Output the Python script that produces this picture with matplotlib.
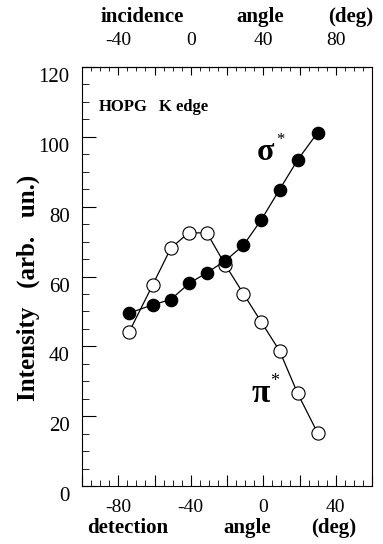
import numpy as np
import matplotlib.pyplot as plt
from matplotlib.ticker import MultipleLocator, FixedLocator, FuncFormatter
from matplotlib.transforms import ScaledTranslation

# detection angle (deg) and intensities (arb. un.)
det_angle = [-74, -61, -51, -41, -31, -21, -11, -1, 9, 19, 30]
sigma = [49.5, 51.9, 53.4, 58.0, 61.1, 64.5, 68.9, 76.3, 84.9, 93.4, 101.2]
pi = [44.1, 57.6, 68.1, 72.6, 72.4, 63.4, 55.1, 46.9, 38.7, 26.5, 15.2]

# incidence angle = detection angle + 40
offset = 40
top_ticks = [-40, -20, 0, 20, 40, 60, 80]

plt.rcParams['font.family'] = ['Liberation Serif', 'DejaVu Serif']
plt.rcParams['axes.unicode_minus'] = False

W, H = 383, 544
fig = plt.figure(figsize=(W / 100, H / 100), dpi=100)
ax = fig.add_axes([82 / W, (H - 486) / H, 290 / W, 419 / H])

ax.plot(det_angle, pi, '-', color='black', lw=0.9, marker='o', ms=9.5,
        mfc='white', mec='black', mew=0.8, zorder=2)
ax.plot(det_angle, sigma, '-', color='black', lw=0.9, marker='o', ms=8.8,
        mfc='black', mec='black', zorder=3)

every40 = FuncFormatter(lambda v, p: '%d' % v if round(v) % 40 == 0 else '')

ax.set_xlim(-100, 60)
ax.set_ylim(0, 120)
ax.xaxis.set_major_locator(MultipleLocator(20))
ax.xaxis.set_major_formatter(every40)
ax.xaxis.set_minor_locator(MultipleLocator(5))
ax.yaxis.set_major_locator(MultipleLocator(20))
ax.yaxis.set_minor_locator(MultipleLocator(5))
ax.tick_params(which='both', direction='in', labelsize=15)
ax.tick_params(axis='x', which='major', length=8, width=0.8, pad=9, labelsize=14)
ax.tick_params(axis='x', which='minor', length=4, width=0.6)
ax.tick_params(axis='y', which='major', length=10, width=0.8, pad=9)
ax.tick_params(axis='y', which='minor', length=5, width=0.6)
for s in ax.spines.values():
    s.set_linewidth(0.8)
# y labels in the original sit a little below their ticks
for lab in ax.get_yticklabels():
    lab.set_transform(lab.get_transform() + ScaledTranslation(0, -0.08, fig.dpi_scale_trans))

top = ax.secondary_xaxis('top', functions=(lambda d: d + offset, lambda i: i - offset))
top.xaxis.set_major_locator(FixedLocator(top_ticks))
top.xaxis.set_major_formatter(every40)
top.xaxis.set_minor_locator(MultipleLocator(5))
top.tick_params(which='both', direction='in', labelsize=14)
top.tick_params(which='major', length=6, width=0.8, pad=13)
top.tick_params(which='minor', length=3, width=0.6)

# axis titles, word by word with the wide spacing of the original
lab_kw = dict(fontsize=15, fontweight='bold', va='center', ha='center')
for word, xc in [('incidence', 142), ('angle', 260), ('(deg)', 351)]:
    fig.text(xc / W, 1 - 17 / H, word, **lab_kw)
for word, xc in [('detection', 128), ('angle', 247), ('(deg)', 334)]:
    fig.text(xc / W, 1 - 528 / H, word, **lab_kw)
fig.text(28 / W, 1 - 288 / H, 'Intensity   (arb.   un.)', fontsize=18,
         fontweight='bold', rotation=90, va='center', ha='center')

ax.text(-90.5, 108.5, 'HOPG', fontsize=12, fontweight='bold', va='center')
ax.text(-57.5, 108.5, 'K edge', fontsize=12, fontweight='bold', va='center')
ax.text(-3.5, 93.5, 'σ', fontsize=23, fontweight='bold')
ax.text(7, 98, '*', fontsize=12)
ax.text(-6.5, 24, 'π', fontsize=24, fontweight='bold')
ax.text(4, 28.5, '*', fontsize=13)

fig.savefig('out.png', dpi=100)
